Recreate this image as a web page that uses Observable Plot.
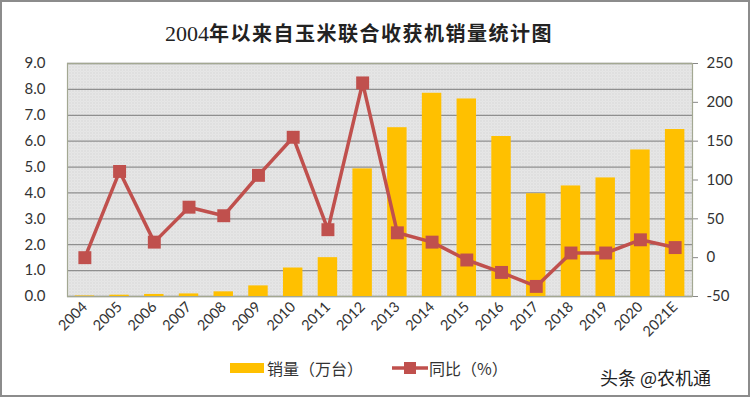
<!DOCTYPE html>
<html><head><meta charset="utf-8">
<script src="https://cdn.jsdelivr.net/npm/d3@7"></script>
<script src="https://cdn.jsdelivr.net/npm/@observablehq/plot@0.6"></script>
<style>
body{margin:0;background:#fff;}
#wrap{position:relative;width:750px;height:397px;overflow:hidden;background:#fff;}
#chart{position:absolute;left:0;top:0;}
#border{position:absolute;left:0;top:0;width:750px;height:397px;box-sizing:border-box;border:2px solid #8c8c8c;pointer-events:none;}
#title{position:absolute;top:18px;left:-16px;width:750px;text-align:center;font-family:"Noto Sans CJK SC",sans-serif;font-weight:700;font-size:20px;letter-spacing:1.5px;color:#222;white-space:nowrap;}
#title .num{font-family:"Liberation Serif",serif;font-weight:400;font-size:22px;letter-spacing:0;}
.leg{position:absolute;top:356px;font-family:"Noto Sans CJK SC",sans-serif;font-size:16px;color:#333;display:flex;align-items:center;white-space:nowrap;}
#wm{position:absolute;left:600px;top:364px;font-family:"Noto Sans CJK SC",sans-serif;font-size:18px;color:#222;white-space:nowrap;}
</style>
</head><body>
<div id="wrap">
  <div id="chart"></div>
  <div id="title"><span class="num">2004</span>年以来自玉米联合收获机销量统计图</div>
  <div class="leg" style="left:230px"><svg width="34" height="14"><rect x="0" y="2" width="34" height="10" fill="#FFC000"/></svg><span style="margin-left:3px">销量（万台）</span></div>
  <div class="leg" style="left:392px"><svg width="36" height="14"><line x1="0" y1="7" x2="36" y2="7" stroke="#C0504D" stroke-width="3.5"/><rect x="12" y="1" width="12" height="12" fill="#C0504D"/></svg><span style="margin-left:1px">同比（%）</span></div>
  <div id="wm">头条 @农机通</div>
  <div id="border"></div>
</div>
<script>
const years = ["2004","2005","2006","2007","2008","2009","2010","2011","2012","2013","2014","2015","2016","2017","2018","2019","2020","2021E"];
const sales = [0.02,0.05,0.08,0.1,0.18,0.41,1.1,1.5,4.93,6.52,7.85,7.63,6.18,3.97,4.27,4.58,5.66,6.45];
const yoy = [0,111,20,65,54,106,155,36,225,32,20,-3,-19,-37,6,6,23,13];
const leftTicks = [0,1,2,3,4,5,6,7,8,9];
const rightTicks = [-50,0,50,100,150,200,250];

const toLeft = v => (v + 50) * 9 / 300;
const data = years.map((y, i) => ({year: y, sales: sales[i], yoy: yoy[i]}));

const svg = Plot.plot({
  width: 750, height: 345,
  marginTop: 63, marginBottom: 49, marginLeft: 67, marginRight: 58,
  x: {domain: years, paddingInner: 0.44, paddingOuter: 0.22, round: false, label: null},
  y: {domain: [0, 9], label: null},
  style: {fontFamily: "Lato, 'Open Sans', sans-serif", fontSize: "15px", color: "#333", background: "transparent"},
  marks: [
    Plot.frame({fill: "url(#dots)", stroke: "none"}),
    Plot.gridY(leftTicks, {stroke: "#8f8f8f", strokeOpacity: 1, strokeWidth: 1.3}),
    Plot.frame({stroke: "#a3a892", strokeWidth: 1.2}),
    Plot.barY(data, {x: "year", y: "sales", fill: "#FFC000"}),
    Plot.line(data, {x: "year", y: d => toLeft(d.yoy), stroke: "#C0504D", strokeWidth: 3.5}),
    Plot.dot(data, {x: "year", y: d => toLeft(d.yoy), symbol: "square", r: 7.3, fill: "#C0504D", stroke: "none"}),
    Plot.axisY(leftTicks, {anchor: "left", tickSize: 0, tickPadding: 22, tickFormat: d => d.toFixed(1), label: null, fontSize: 15}),
    Plot.axisY(rightTicks.map(toLeft), {anchor: "right", tickSize: 5, tickPadding: 9, stroke: "#888", tickFormat: d => String(Math.round(d * 300 / 9 - 50)), label: null, fontSize: 15}),
    Plot.axisX({tickRotate: -45, tickSize: 0, tickPadding: 8, label: null, fontSize: 14.5})
  ]
});

const defs = d3.select(svg).insert("defs", ":first-child");
const p = defs.append("pattern").attr("id", "dots").attr("width", 3).attr("height", 3).attr("patternUnits", "userSpaceOnUse");
p.append("rect").attr("width", 3).attr("height", 3).attr("fill", "#e8e8e8");
p.append("rect").attr("width", 1).attr("height", 1).attr("fill", "#c8c8c8");
p.append("rect").attr("x", 1.5).attr("y", 1.5).attr("width", 1).attr("height", 1).attr("fill", "#d4d4d4");

document.getElementById("chart").appendChild(svg);
</script>
</body></html>
